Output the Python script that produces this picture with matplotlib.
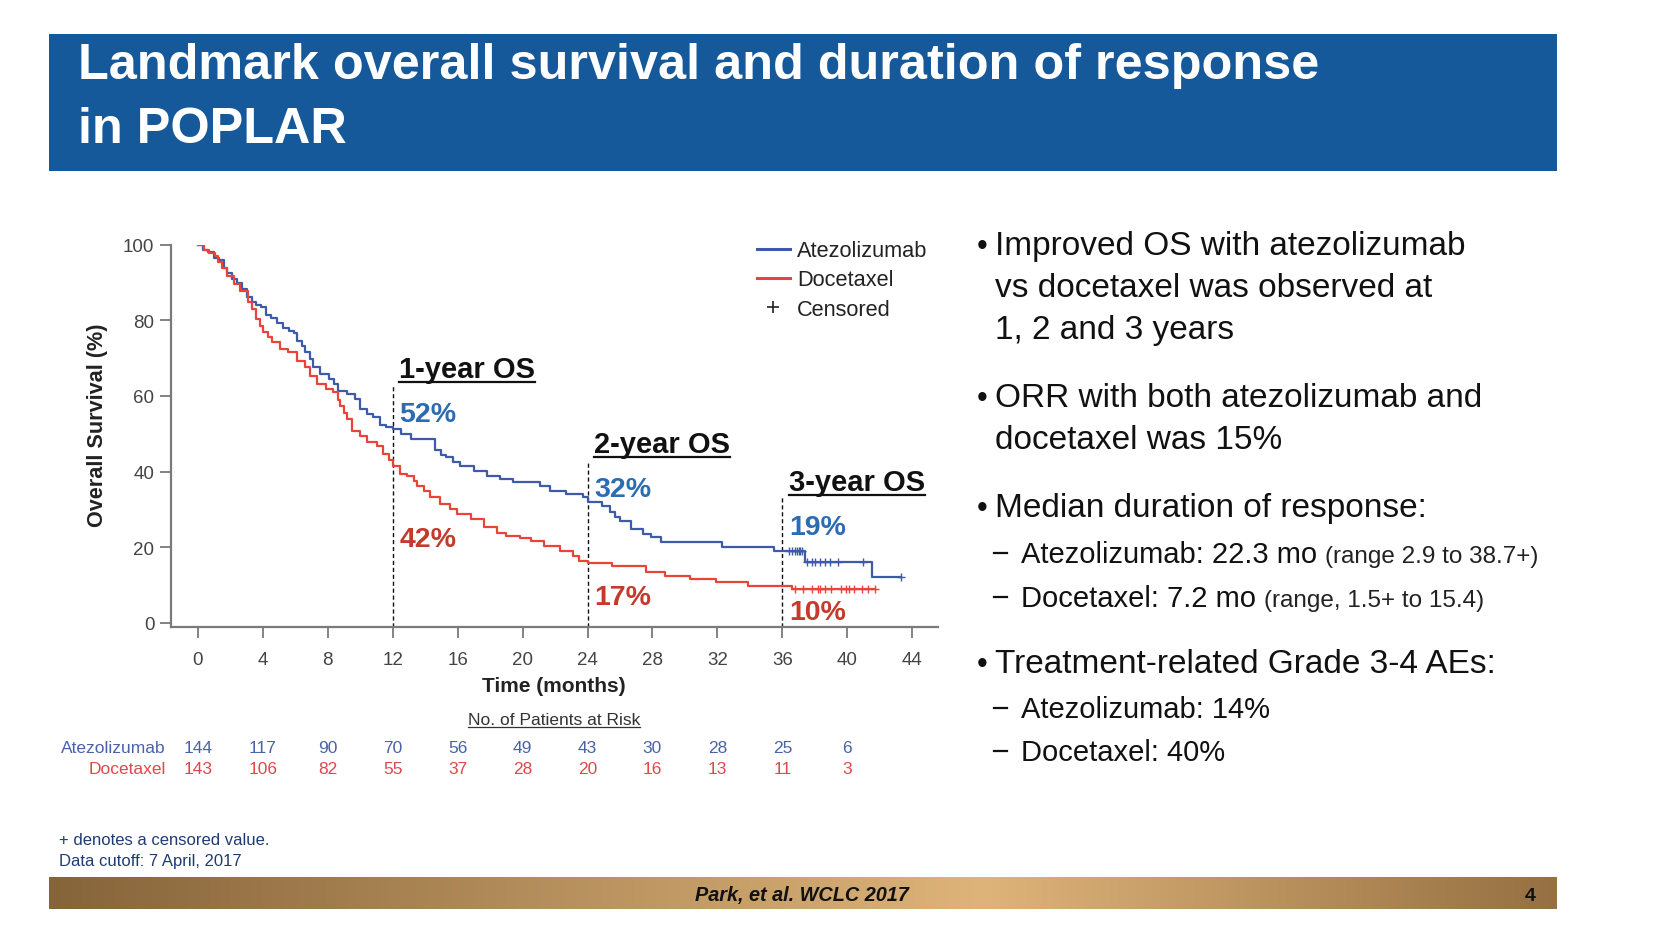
import numpy as np
import matplotlib
matplotlib.use('Agg')
import matplotlib.pyplot as plt
from matplotlib.lines import Line2D
from matplotlib.patches import Rectangle
import matplotlib.transforms as mtransforms

plt.rcParams['font.family'] = ['Liberation Sans', 'DejaVu Sans']

# ---------------- data ----------------
atezo_t = [0, 0.3, 0.6, 1.0, 1.3, 1.6, 1.8, 2.1, 2.4, 2.7, 3.0, 3.3, 3.6, 3.9, 4.2, 4.5, 4.85, 5.26, 5.6, 5.9,
           6.1, 6.4, 6.6, 6.9, 7.1, 7.5, 8.1, 8.4, 8.6, 9.2, 9.7, 10.0, 10.4, 10.8, 11.2, 11.6, 12.0, 12.5, 13.1, 14.6,
           15.0, 15.3, 15.7, 16.15, 17.0, 17.8, 18.6, 19.4, 21.1, 21.7, 22.7, 23.75, 24.0, 24.9, 25.4, 25.7, 26.0, 26.7,
           27.4, 27.9, 28.5, 32.3, 35.5, 37.4, 41.5]
atezo_s = [100, 98.6, 97.9, 96.5, 95.8, 93.8, 92.4, 91.0, 89.7, 88.3, 86.2, 84.8, 84.1, 83.4, 81.4, 80.7, 79.3, 77.9,
           77.2, 76.5, 74.5, 73.1, 71.7, 69.7, 67.6, 65.9, 64.5, 63.2, 61.4, 60.5, 59.2, 56.6, 55.2, 54.3, 52.3, 51.8,
           51.3, 50.0, 48.6, 45.6, 44.5, 43.8, 42.5, 41.6, 40.2, 38.9, 38.0, 37.2, 36.3, 35.0, 34.1, 33.2, 31.9, 31.0,
           29.2, 28.1, 27.0, 24.8, 23.5, 22.6, 21.3, 20.0, 19.1, 16.0, 12.1]
atezo_end = 43.3
atezo_censored = [36.4, 36.6, 36.8, 36.9, 37.0, 37.1, 37.2, 37.55, 37.8, 38.0, 38.3, 38.6, 38.95, 39.4, 41.0, 43.3]

doce_t = [0, 0.4, 0.7, 1.05, 1.25, 1.5, 1.77, 2.2, 2.59, 3.1, 3.31, 3.6, 3.8, 4.03, 4.3, 4.54, 5.06, 5.57, 6.08, 6.6,
          6.9, 7.32, 7.9, 8.34, 8.6, 8.75, 9.0, 9.17, 9.47, 9.99, 10.4, 11.0, 11.4, 11.8, 12.0, 12.45, 12.9, 13.3, 13.5,
          13.9, 14.3, 14.9, 15.5, 15.95, 16.8, 17.6, 18.4, 19.0, 19.85, 20.5, 21.3, 22.3, 23.1, 23.5, 24.0, 25.5, 27.6,
          28.8, 30.3, 31.9, 33.9, 36.6]
doce_s = [100, 98.5, 97.8, 97.0, 95.3, 93.9, 91.6, 89.5, 87.8, 84.7, 83.0, 80.3, 78.5, 76.8, 75.5, 74.2, 72.4, 71.5,
          69.3, 67.6, 65.3, 63.1, 61.8, 61.0, 59.0, 57.4, 55.5, 53.9, 50.8, 49.5, 47.7, 46.8, 44.6, 43.0, 41.5, 39.4,
          38.9, 37.6, 36.3, 35.0, 33.2, 31.4, 30.1, 28.8, 27.5, 25.3, 23.8, 23.0, 22.4, 21.7, 20.4, 19.1, 17.8, 16.5,
          15.8, 15.0, 13.4, 12.5, 11.6, 10.8, 9.9, 9.0]
doce_end = 41.7
doce_censored = [36.8, 37.3, 37.8, 38.2, 38.35, 38.6, 39.0, 39.6, 39.9, 40.1, 40.4, 40.9, 41.3, 41.7]

x_ticks = list(range(0, 45, 4))
y_ticks = list(range(0, 101, 20))
risk_times = list(range(0, 41, 4))
atezo_risk = [144, 117, 90, 70, 56, 49, 43, 30, 28, 25, 6]
doce_risk = [143, 106, 82, 55, 37, 28, 20, 16, 13, 11, 3]

landmarks = [12, 24, 36]
landmark_titles = ['1-year OS', '2-year OS', '3-year OS']
landmark_line_top = [63.2, 42.5, 33.2]
landmark_title_y = [64.9, 45.1, 35.2]
atezo_pct = ['52%', '32%', '19%']
atezo_pct_y = [53.3, 33.6, 23.5]
doce_pct = ['42%', '17%', '10%']
doce_pct_y = [20.4, 5.0, 1.0]

series_names = ['Atezolizumab', 'Docetaxel']

title_lines = ['Landmark overall survival and duration of response', 'in POPLAR']
bullets = [
    ('b', ['Improved OS with atezolizumab', 'vs docetaxel was observed at', '1, 2 and 3 years']),
    ('b', ['ORR with both atezolizumab and', 'docetaxel was 15%']),
    ('b', ['Median duration of response:']),
    ('s', ['Atezolizumab: 22.3 mo', '(range 2.9 to 38.7+)']),
    ('s', ['Docetaxel: 7.2 mo', '(range, 1.5+ to 15.4)']),
    ('b', ['Treatment-related Grade 3-4 AEs:']),
    ('s', ['Atezolizumab: 14%']),
    ('s', ['Docetaxel: 40%']),
]

# ---------------- style ----------------
BLUE = '#3D5BA9'
RED = '#E8443A'
BLUE_LBL = '#2C6CB3'
RED_LBL = '#C43A2C'
BLUE_RISK = '#4A62AA'
RED_RISK = '#E0474C'
AXC = '#7A7A7A'

W, H = 1680, 945
fig = plt.figure(figsize=(W / 100, H / 100), dpi=100)
fig.patch.set_facecolor('white')


def fx(x):
    return x / W


def fy(y):
    return 1 - y / H


# title bar
fig.add_artist(Rectangle((fx(49), fy(171.5)), (1557 - 49) / W, (171.5 - 35) / H,
                         transform=fig.transFigure, facecolor='#15599B', edgecolor='none'))
fig.text(fx(78), fy(79), title_lines[0], color='white', fontsize=36.3, fontweight='bold', va='baseline')
fig.text(fx(78), fy(143), title_lines[1], color='white', fontsize=36.3, fontweight='bold', va='baseline')

# footer gradient bar
fax = fig.add_axes([fx(49), fy(909.6), (1557 - 49) / W, (909.6 - 877.5) / H])
stops = np.array([[0.0, 0x86, 0x64, 0x3A], [0.62, 0xDE, 0xB4, 0x7A], [1.0, 0x96, 0x70, 0x42]])
gx = np.linspace(0, 1, 600)
grad = np.stack([np.interp(gx, stops[:, 0], stops[:, i]) for i in (1, 2, 3)], axis=-1) / 255.0
fax.imshow(grad[None, :, :], aspect='auto', extent=[0, 1, 0, 1])
fax.set_axis_off()
fig.text(fx(802), fy(901), 'Park, et al. WCLC 2017', fontsize=14.3, fontweight='bold', style='italic',
         ha='center', va='baseline', color='#111111')
fig.text(fx(1530), fy(901), '4', fontsize=14, fontweight='bold', ha='center', va='baseline', color='#111111')

# ---------------- KM plot ----------------
ax = fig.add_axes([fx(171), fy(628), (937.5 - 171) / W, (628 - 245.5) / H])
ax.set_xlim(-1.66, 45.56)
ax.set_ylim(-1.06, 100)


def km(ax, t, s, end, cens, color):
    tt = np.append(np.array(t, float), end)
    ss = np.append(np.array(s, float), s[-1])
    ax.step(tt, ss, where='post', color=color, lw=1.6, zorder=3)
    idx = np.searchsorted(np.array(t, float), np.array(cens, float), side='right') - 1
    cy = np.array(s, float)[idx]
    ax.plot(cens, cy, linestyle='none', marker='+', markersize=6, mew=1.0, color=color, zorder=4)


km(ax, atezo_t, atezo_s, atezo_end, atezo_censored, BLUE)
km(ax, doce_t, doce_s, doce_end, doce_censored, RED)

for spine in ['top', 'right']:
    ax.spines[spine].set_visible(False)
for spine in ['left', 'bottom']:
    ax.spines[spine].set_color(AXC)
    ax.spines[spine].set_linewidth(1.6)
ax.set_xticks(x_ticks)
ax.set_yticks(y_ticks)
ax.tick_params(axis='both', length=8, width=1.3, color=AXC, labelsize=13.5, labelcolor='#444444')
ax.tick_params(axis='x', pad=9)
ax.tick_params(axis='y', pad=4)

fig.text(fx(554), fy(686), 'Time (months)', fontsize=15, fontweight='bold', ha='center', va='center', color='#222222')
fig.text(fx(98), fy(425), 'Overall Survival (%)', fontsize=15.6, fontweight='bold', rotation=90,
         ha='center', va='center', color='#222222')

# landmark lines and labels
ybottom = ax.get_ylim()[0]
title_texts = []
for lm, top, ttl, ty, ap, apy, dp, dpy in zip(landmarks, landmark_line_top, landmark_titles, landmark_title_y,
                                              atezo_pct, atezo_pct_y, doce_pct, doce_pct_y):
    ax.vlines(lm, ybottom, top, colors='#111111', linestyles=(0, (3, 2)), lw=1.0, zorder=2)
    title_texts.append(ax.text(lm + 0.4, ty, ttl, fontsize=21, fontweight='bold', color='#111111', va='baseline'))
    ax.text(lm + 0.4, apy, ap, fontsize=20.5, fontweight='bold', color=BLUE_LBL, va='baseline')
    ax.text(lm + 0.4, dpy, dp, fontsize=20.5, fontweight='bold', color=RED_LBL, va='baseline')

# legend (manual)
for yc, col, name in [(249.6, BLUE, series_names[0]), (278.6, RED, series_names[1])]:
    fig.add_artist(Line2D([fx(757), fx(790)], [fy(yc), fy(yc)], color=col, lw=2.2, transform=fig.transFigure))
    fig.text(fx(797), fy(yc + 7.5), name, fontsize=15.7, color='#222222', va='baseline')
fig.add_artist(Line2D([fx(772.5)], [fy(307.5)], marker='+', markersize=9, mew=1.2, color='#222222',
                      linestyle='none', transform=fig.transFigure))
fig.text(fx(797), fy(315.5), 'Censored', fontsize=15.7, color='#222222', va='baseline')

# risk table
btf = mtransforms.blended_transform_factory(ax.transData, fig.transFigure)
risk_hdr = fig.text(fx(554), fy(725), 'No. of Patients at Risk', fontsize=12.5, color='#333333',
                    ha='center', va='baseline')
fig.text(fx(166), fy(753), series_names[0], fontsize=12.5, color=BLUE_RISK, ha='right', va='baseline')
fig.text(fx(166), fy(774), series_names[1], fontsize=12.5, color=RED_RISK, ha='right', va='baseline')
for t, a, d in zip(risk_times, atezo_risk, doce_risk):
    ax.text(t, fy(753), str(a), transform=btf, fontsize=12.5, color=BLUE_RISK, ha='center', va='baseline')
    ax.text(t, fy(774), str(d), transform=btf, fontsize=12.5, color=RED_RISK, ha='center', va='baseline')

# footnotes
fig.text(fx(59), fy(845), '+ denotes a censored value.', fontsize=12, color='#1F3B73', va='baseline')
fig.text(fx(59), fy(866), 'Data cutoff: 7 April, 2017', fontsize=12, color='#1F3B73', va='baseline')

# ---------------- bullets ----------------
TXT = '#111111'
main_baselines = {0: [255, 297, 339], 1: [407, 449], 2: [517], 5: [673]}
sub_baselines = {3: 563, 4: 607, 6: 718, 7: 761}
pending = []
for i, (kind, lines) in enumerate(bullets):
    if kind == 'b':
        for j, (line, yb) in enumerate(zip(lines, main_baselines[i])):
            if j == 0:
                fig.text(fx(977), fy(yb), '\u2022', fontsize=22, color=TXT, ha='left', va='baseline')
            fig.text(fx(995), fy(yb), line, fontsize=24, color=TXT, va='baseline')
    else:
        yb = sub_baselines[i]
        fig.add_artist(Line2D([fx(994), fx(1007)], [fy(yb - 9), fy(yb - 9)], color=TXT, lw=1.6,
                              transform=fig.transFigure))
        t1 = fig.text(fx(1021), fy(yb), lines[0], fontsize=21, color=TXT, va='baseline')
        if len(lines) > 1:
            pending.append((t1, lines[1], yb))

fig.canvas.draw()
r = fig.canvas.get_renderer()
for t1, txt, yb in pending:
    bb = t1.get_window_extent(r)
    fig.text((bb.x1 + 8) / W, fy(yb), txt, fontsize=17.5, color='#222222', va='baseline')


# underlines
def underline(tobj, off_px, lw):
    bb = tobj.get_window_extent(r)
    x, y = tobj.get_transform().transform(tobj.get_position())
    yl = y - off_px
    fig.add_artist(Line2D([bb.x0 / W, bb.x1 / W], [yl / H, yl / H], color=tobj.get_color(), lw=lw,
                          transform=fig.transFigure))


for tt in title_texts:
    underline(tt, 5, 1.6)
underline(risk_hdr, 3, 0.9)

fig.savefig('out.png', dpi=100, facecolor='white')
